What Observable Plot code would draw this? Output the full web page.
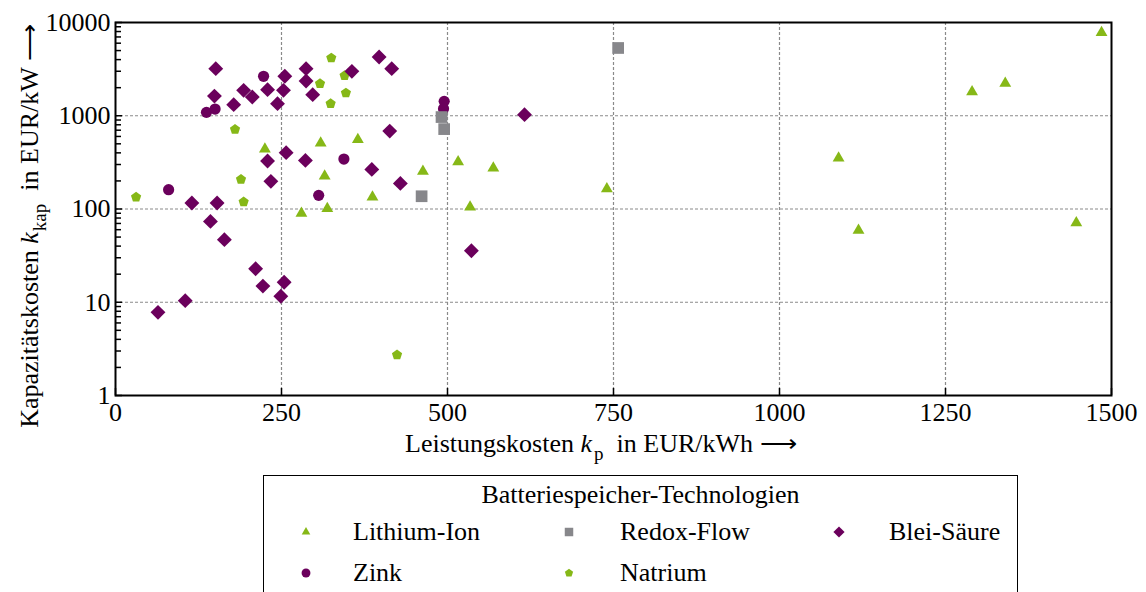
<!DOCTYPE html>
<html><head><meta charset="utf-8">
<script src="https://cdn.jsdelivr.net/npm/d3@7"></script>
<script src="https://cdn.jsdelivr.net/npm/@observablehq/plot@0.6"></script>
<style>
body{margin:0;background:#fff;}
#wrap{position:relative;width:1146px;height:592px;overflow:hidden;}
#legend{position:absolute;left:263px;top:475px;width:755px;height:130px;border:1.5px solid #000;box-sizing:border-box;}
#legend .t{position:absolute;white-space:nowrap;transform:translateY(-50%);line-height:1;}
#legend svg{position:absolute;transform:translate(-50%,-50%);}
</style></head>
<body><div id="wrap"></div>
<script>
// ---- data ----
const liIonX = [225, 309, 315, 319, 280, 365, 387, 463, 516, 569, 534, 740, 1089, 1119, 1290, 1340, 1447, 1485];
const liIonY = [440, 510, 225, 101, 90, 555, 134, 254, 320, 275, 105, 165, 352, 59, 1800, 2230, 71, 7800];
const redoxX = [757, 491, 495, 461];
const redoxY = [5330, 968, 719, 137];
const zinkX = [223, 137, 150, 344, 80, 306, 495, 494];
const zinkY = [2649, 1087, 1180, 343, 161, 140, 1427, 1192];
const natriumX = [325, 308, 345, 347, 324, 180, 189, 193, 31, 424];
const natriumY = [4160, 2209, 2694, 1753, 1349, 715, 208, 119, 134, 2.73];
const bleiX = [151, 149, 178, 193, 206, 229, 244, 255, 253, 287, 287, 297, 356, 397, 416, 413, 616, 286, 229, 257, 234, 386, 429, 115, 153, 143, 164, 211, 222, 254, 249, 105, 64, 536];
const bleiY = [3200, 1625, 1315, 1874, 1589, 1905, 1349, 2649, 1874, 3200, 2355, 1684, 2995, 4266, 3200, 685, 1028, 332, 327, 402, 198, 266, 188, 116, 116, 73.6, 46.9, 22.9, 14.9, 16.4, 11.6, 10.4, 7.8, 35.7];
const xTicks = [0, 250, 500, 750, 1000, 1250, 1500];
const yTicks = [1, 10, 100, 1000, 10000];
const xGrid = [250, 500, 750, 1000, 1250];
const yGrid = [10, 100, 1000];
const seriesNames = ["Lithium-Ion", "Redox-Flow", "Blei-Säure", "Zink", "Natrium"];
const legendTitle = "Batteriespeicher-Technologien";

const green = "#86b817", purple = "#6b005c", gray = "#87878b";

// pick an installed serif font
const cv = document.createElement("canvas").getContext("2d");
function w(font){ cv.font = "40px " + font; return cv.measureText("Leistungskosten EUR/kWh 10000 Wil").width; }
function has(name){ return w(`'${name}', monospace`) !== w("monospace") || w(`'${name}', sans-serif`) !== w("sans-serif"); }
let FONT = "'Liberation Serif', serif", FS = 26, FSsub = 19;
const refW = 0; // width target derived from reference
if (!has("Liberation Serif")) {
  if (has("DejaVu Serif")) { FONT = "'DejaVu Serif', serif"; FS = 22; FSsub = 16; }
  else if (has("Noto Serif")) { FONT = "'Noto Serif', serif"; FS = 23; FSsub = 17; }
}

const pentagon = {draw(ctx, size){
  const R = Math.sqrt(size) * 0.56;
  for (let k = 0; k < 5; k++) {
    const a = -Math.PI/2 + k * 2*Math.PI/5;
    const px = R*Math.cos(a), py = R*Math.sin(a);
    if (k === 0) ctx.moveTo(px, py); else ctx.lineTo(px, py);
  }
  ctx.closePath();
}};

const pts = (xs, ys) => xs.map((x, i) => ({x, y: ys[i]}));
const yMinor = [];
for (const d of [1, 10, 100, 1000]) for (let m = 2; m <= 9; m++) yMinor.push(d*m);

const plot = Plot.plot({
  width: 1146, height: 470,
  marginLeft: 115, marginRight: 35, marginTop: 22, marginBottom: 75,
  x: {domain: [0, 1500]},
  y: {type: "log", domain: [1, 10000]},
  style: {fontFamily: FONT, fontSize: FS + "px", color: "#000", background: "transparent"},
  marks: [
    Plot.gridX(xGrid, {stroke: "#8a8a8a", strokeOpacity: 1, strokeDasharray: "3,2", strokeWidth: 1.2}),
    Plot.gridY(yGrid, {stroke: "#8a8a8a", strokeOpacity: 1, strokeDasharray: "3,2", strokeWidth: 1.2}),
    Plot.axisY(yMinor, {tickSize: -6, tickFormat: () => "", label: null, strokeWidth: 1.5}),
    Plot.axisY(yTicks, {tickSize: -7, tickPadding: 12, tickFormat: d => String(d), label: null, strokeWidth: 1.5, fontSize: FS}),
    Plot.axisX(xTicks, {tickSize: -7, tickPadding: 14, tickFormat: d => String(d), label: null, strokeWidth: 1.5, fontSize: FS}),
    Plot.frame({stroke: "#000", strokeWidth: 2}),
    Plot.dot(pts(zinkX, zinkY), {x: "x", y: "y", symbol: "circle", r: 5.6, fill: purple}),
    Plot.dot(pts(natriumX, natriumY), {x: "x", y: "y", symbol: pentagon, r: 5.4, fill: green}),
    Plot.dot(pts(bleiX, bleiY), {x: "x", y: "y", symbol: "diamond2", r: 6.7, fill: purple}),
    Plot.dot(pts(liIonX, liIonY), {x: "x", y: "y", symbol: "triangle", r: 4.4, fill: green}),
    Plot.dot(pts(redoxX, redoxY), {x: "x", y: "y", symbol: "square", r: 6.6, fill: gray})
  ]
});
document.getElementById("wrap").appendChild(plot);
document.getElementById("wrap").style.fontFamily = FONT;

// axis titles
const svg = d3.select(plot);
const xt = svg.append("text").attr("x", 405).attr("y", 452).attr("text-anchor", "start")
  .attr("font-family", FONT).attr("font-size", FS).attr("fill", "#000").attr("xml:space", "preserve");
xt.append("tspan").text("Leistungskosten ");
xt.append("tspan").attr("font-style", "italic").text("k");
xt.append("tspan").attr("font-size", FSsub).attr("dy", 8).attr("dx", 2).text("p");
xt.append("tspan").attr("dy", -8).text("  in EUR/kWh ⟶");

const yt = svg.append("text").attr("transform", "translate(38,226) rotate(-90)").attr("text-anchor", "middle")
  .attr("font-family", FONT).attr("font-size", FS).attr("fill", "#000").attr("xml:space", "preserve");
yt.append("tspan").text("Kapazitätskosten ");
yt.append("tspan").attr("font-style", "italic").text("k");
yt.append("tspan").attr("font-size", FSsub).attr("dy", 8).attr("dx", 1).text("kap");
yt.append("tspan").attr("dy", -8).text("  in EUR/kW ⟶");

// legend
const lg = document.createElement("div");
lg.id = "legend";
lg.style.fontSize = FS + "px";
document.getElementById("wrap").appendChild(lg);
const title = document.createElement("div");
title.className = "t"; title.textContent = legendTitle;
title.style.left = "50%"; title.style.top = "19px"; title.style.transform = "translate(-50%,-50%)";
lg.appendChild(title);
const items = [
  {name: seriesNames[0], sym: d3.symbolTriangle, size: 32, color: green, col: 0, row: 0},
  {name: seriesNames[1], sym: d3.symbolSquare, size: 72, color: gray, col: 1, row: 0},
  {name: seriesNames[2], sym: d3.symbolDiamond2, size: 80, color: purple, col: 2, row: 0},
  {name: seriesNames[3], sym: d3.symbolCircle, size: 62, color: purple, col: 0, row: 1},
  {name: seriesNames[4], sym: pentagon, size: 60, color: green, col: 1, row: 1}
];
const markX = [42, 305, 575], textX = [89, 356, 625], rowY = [56, 97];
for (const it of items) {
  const s = d3.create("svg").attr("width", 16).attr("height", 16)
    .style("left", markX[it.col] + "px").style("top", rowY[it.row] + "px");
  s.append("path").attr("transform", "translate(8,8)").attr("d", d3.symbol(it.sym, it.size)()).attr("fill", it.color);
  lg.appendChild(s.node());
  const t = document.createElement("div");
  t.className = "t"; t.textContent = it.name;
  t.style.left = textX[it.col] + "px"; t.style.top = rowY[it.row] + "px";
  lg.appendChild(t);
}
</script>
</body></html>
